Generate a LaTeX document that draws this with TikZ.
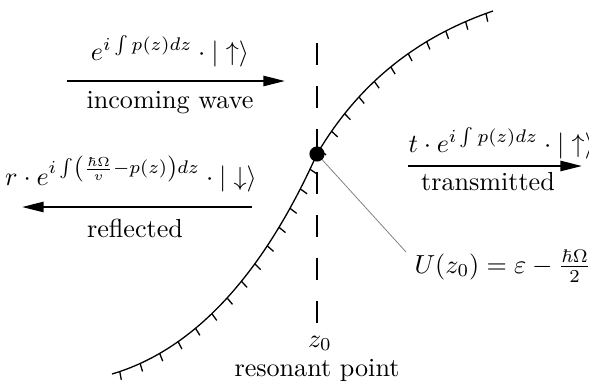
\documentclass[tikz,border=0pt]{standalone}
\usepackage{amsmath, amssymb}
\usetikzlibrary{arrows.meta,calc,positioning}
\usetikzlibrary{decorations.markings}

\begin{document}
\begin{tikzpicture}[x=0.383pt,y=0.383pt,
    wave/.style={line width=0.8pt,-{Triangle[length=8.3pt,width=3.9pt]}},
    lbl/.style={inner sep=0pt,anchor=base},
    wall/.style={line width=0.5pt,postaction={decorate,
        decoration={markings,mark=between positions 0.015 and 1 step 8.4pt with
        {\draw[line width=0.5pt] (0pt,0pt) -- (-98:3.2pt);}}}}]
    \useasboundingbox (0,0) rectangle (589,381);
    \coordinate (inL) at (67,300);
    \coordinate (inR) at (285,300);
    \coordinate (reR) at (252,174);
    \coordinate (reL) at (22,174);
    \coordinate (trL) at (408,215);
    \coordinate (trR) at (582,215);
    \coordinate (z0) at (317,227);
    \coordinate (dtop) at (317,338);
    \coordinate (dbot) at (317,58);
    \coordinate (uend) at (406,129);
    %Potential curve
    \draw[wall] (112,7) .. controls (190,30) and (260,100) .. (z0)
        .. controls (360,300) and (420,345) .. (493,370);
    %Resonance line
    \draw[line width=0.8pt,dash pattern=on 8.4pt off 8.1pt] (dtop) -- (dbot);
    \draw[gray,line width=0.3pt] (z0) -- (uend);
    \fill (z0) circle (2.9pt);
    %Waves
    \draw[wave] (inL) -- (inR);
    \draw[wave] (reR) -- (reL);
    \draw[wave] (trL) -- (trR);
    %Labels
    \node[lbl] (inc) at (170,321) {$e^{i\int p(z)dz}\cdot|\uparrow\rangle$};
    \node[lbl] (inctext) at (170,273) {incoming wave};
    \node[lbl] (ref) at (131,196) {$r\cdot e^{i\int\left(\frac{\hbar\Omega}{v}-p(z)\right)dz}\cdot|\downarrow\rangle$};
    \node[lbl] (reftext) at (135,144) {reflected};
    \node[lbl,anchor=base west] (tra) at (408,229) {$t\cdot e^{i\int p(z)dz}\cdot|\uparrow\rangle$};
    \node[lbl] (tratext) at (488,191) {transmitted};
    \node[lbl,anchor=base west] (pot) at (414,108) {$U(z_0)=\varepsilon-\frac{\hbar\Omega}{2}$};
    \node[lbl] (zlab) at (320,34) {$z_0$};
    \node[lbl] (res) at (317,5) {resonant point};
\end{tikzpicture}
\end{document}
